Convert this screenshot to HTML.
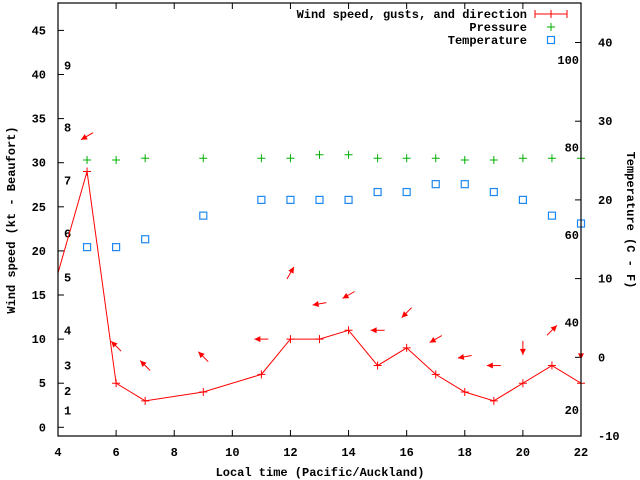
<!DOCTYPE html>
<html><head><meta charset="utf-8"><style>
body{margin:0;background:#fff}
svg{display:block;font-family:"Liberation Mono",monospace;font-weight:bold;font-size:12px}
</style></head><body>
<svg id="c" width="640" height="480" xmlns="http://www.w3.org/2000/svg">
<rect width="640" height="480" fill="#fff"/>
<g id="grid"></g>
<g id="marks"></g>
<rect x="58" y="3" width="523" height="433" fill="none" stroke="#000" stroke-width="1.2"/>
<text x="15" y="220" transform="rotate(-90 15 220)" text-anchor="middle">Wind speed (kt - Beaufort)</text>
<text x="627" y="220" transform="rotate(90 627 220)" text-anchor="middle">Temperature (C - F)</text>
<text x="320" y="476" text-anchor="middle">Local time (Pacific/Auckland)</text>
<g>
<text x="527" y="18" text-anchor="end">Wind speed, gusts, and direction</text>
<g stroke="#f00" stroke-width="1"><line x1="535" y1="14" x2="567" y2="14"/><line x1="535" y1="10" x2="535" y2="18"/><line x1="567" y1="10" x2="567" y2="18"/><line x1="551" y1="10" x2="551" y2="18"/></g>
<text x="527" y="31" text-anchor="end">Pressure</text>
<g stroke="#00b000"><line x1="547" y1="27" x2="555" y2="27"/><line x1="551" y1="23" x2="551" y2="31"/></g>
<text x="527" y="44" text-anchor="end">Temperature</text>
<rect x="547.5" y="36.5" width="7" height="7" fill="none" stroke="#1e88f0" stroke-width="1.2"/>
</g>
</svg>
<script>
const hours=[5,6,7,9,11,12,13,14,15,16,17,18,19,20,21,22];
const windSpeed=[29,5,3,4,6,10,10,11,7,9,6,4,3,5,7,5];
const windGust=[33,9.2,7,8,10,17.5,14,15,11,13,10,8,7,9,11,8.5];
const windDir=[240,315,315,315,270,30,260,240,270,225,240,260,270,180,45,180];
const pressure=[30.3,30.3,30.5,30.5,30.5,30.5,30.9,30.9,30.5,30.5,30.5,30.3,30.3,30.5,30.5,30.5];
const tempC=[14,14,15,18,20,20,20,20,21,21,22,22,21,20,18,17];
const xTicks=[4,6,8,10,12,14,16,18,20,22];
const yTicks=[0,5,10,15,20,25,30,35,40,45];
const y2Ticks=[-10,0,10,20,30,40];
const fTicks=[20,40,60,80,100];
const beaufort=[[1,1.9],[2,4.1],[3,7],[4,11],[5,17],[6,22],[7,28],[8,34],[9,41]];
const X=v=>58+(v-4)*523/18;
const Y=v=>427.3-v*8.82;
const T=v=>436-(v+10)*7.87;
const NS="http://www.w3.org/2000/svg";
const g=document.getElementById('grid'),m=document.getElementById('marks');
function el(p,t,a){const e=document.createElementNS(NS,t);for(const k in a)e.setAttribute(k,a[k]);p.appendChild(e);return e;}
xTicks.forEach(v=>{
 const t=el(g,'line',{x1:X(v),x2:X(v),y1:436,y2:430,stroke:'#000'});
 
 
 const t2=el(g,'line',{x1:X(v),x2:X(v),y1:3,y2:9,stroke:'#000'});
 
 
 const l=el(g,'text',{x:X(v),y:456,'text-anchor':'middle'});l.textContent=v;
 
 
});
yTicks.forEach(v=>{
 const t=el(g,'line',{x1:58,x2:64,y1:Y(v),y2:Y(v),stroke:'#000'});
 
 
 const l=el(g,'text',{x:46,y:Y(v)+4,'text-anchor':'end'});l.textContent=v;
 
 
});
y2Ticks.forEach(v=>{
 const t=el(g,'line',{x1:575,x2:581,y1:T(v),y2:T(v),stroke:'#000'});
 
 
 const l=el(g,'text',{x:598,y:T(v)+4});l.textContent=v;
 
 
});
fTicks.forEach(f=>{
 const c=(f-32)*5/9;
 const l=el(g,'text',{x:579,y:T(c)+4,'text-anchor':'end'});l.textContent=f;
 
 
});
beaufort.forEach(([b,kt])=>{
 const l=el(g,'text',{x:64,y:Y(kt)+4});l.textContent=b;
 
 
});
// wind line (clipped)
el(m,'clipPath',{id:'cp'}).appendChild(document.createElementNS(NS,'rect'));
const cr=m.querySelector('#cp rect');cr.setAttribute('x',58);cr.setAttribute('y',3);cr.setAttribute('width',523);cr.setAttribute('height',433);
let pts=[[X(4),Y(17.5)]].concat(hours.map((h,i)=>[X(h),Y(windSpeed[i])]));
pts.push([X(23),Y(3)]);
const wl=el(m,'polyline',{points:pts.map(p=>p.join(',')).join(' '),fill:'none',stroke:'#f00','stroke-width':1,'clip-path':'url(#cp)'});


hours.forEach((h,i)=>{
 const x=X(h),y=Y(windSpeed[i]);
 const p=el(m,'path',{d:`M${x-4},${y}h8M${x},${y-4}v8`,stroke:'#f00'});
 
 
 // direction arrow at gust
 const gx=X(h),gy=Y(windGust[i]),a=windDir[i]*Math.PI/180,dx=Math.sin(a),dy=-Math.cos(a),L=7;
 const hx=gx+dx*L,hy=gy+dy*L,tx=gx-dx*L,ty=gy-dy*L;
 const px=-dy,py=dx;
 const ar=el(m,'g',{});
 
 
 el(ar,'line',{x1:tx,y1:ty,x2:hx,y2:hy,stroke:'#f00'});
 el(ar,'polygon',{points:`${hx},${hy} ${hx-dx*6+px*3},${hy-dy*6+py*3} ${hx-dx*6-px*3},${hy-dy*6-py*3}`,fill:'#f00'});
 const pp=el(m,'path',{d:`M${x-4},${Y(pressure[i])}h8M${x},${Y(pressure[i])-4}v8`,stroke:'#00b000'});
 
 
 const tr=el(m,'rect',{x:x-3.5,y:T(tempC[i])-3.5,width:7,height:7,fill:'none',stroke:'#1e88f0','stroke-width':1.2});
 
 
});
</script>
</body></html>
